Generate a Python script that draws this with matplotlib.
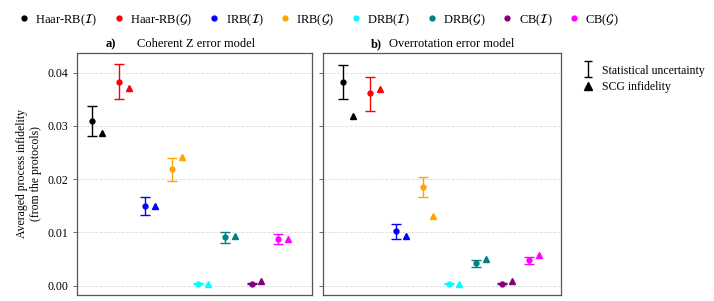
import matplotlib.pyplot as plt
from matplotlib.lines import Line2D
from matplotlib.path import Path
import numpy as np

plt.rcParams["font.family"] = ["Liberation Serif", "DejaVu Serif"]
plt.rcParams["mathtext.fontset"] = "stix"

# protocols and colours
protocols = [r"Haar-RB($\mathcal{I}$)", r"Haar-RB($\mathcal{G}$)", r"IRB($\mathcal{I}$)",
             r"IRB($\mathcal{G}$)", r"DRB($\mathcal{I}$)", r"DRB($\mathcal{G}$)",
             r"CB($\mathcal{I}$)", r"CB($\mathcal{G}$)"]
colors = ["black", "red", "blue", "orange", "cyan", "teal", "purple", "magenta"]

# a) coherent Z error model
z_mean = [0.0309, 0.0383, 0.0149, 0.0219, 0.0004, 0.0091, 0.0004, 0.00875]
z_low = [0.0281, 0.0351, 0.01325, 0.0196, 0.0003, 0.0081, 0.0003, 0.00775]
z_high = [0.03375, 0.04156, 0.0167, 0.0240, 0.0005, 0.0100, 0.0005, 0.00975]
z_scg = [0.0287, 0.0372, 0.0149, 0.0241, 0.0004, 0.0094, 0.0009, 0.0088]

# b) overrotation error model
o_mean = [0.03825, 0.0361, 0.0102, 0.0186, 0.0004, 0.0043, 0.0004, 0.00475]
o_low = [0.0351, 0.0328, 0.00875, 0.0167, 0.0003, 0.0035, 0.0003, 0.0040]
o_high = [0.04144, 0.03925, 0.0116, 0.0205, 0.0005, 0.0049, 0.0005, 0.0054]
o_scg = [0.0318, 0.0369, 0.00925, 0.0131, 0.0004, 0.0050, 0.0008, 0.0057]

fig = plt.figure(figsize=(7.14, 3.01), dpi=100)
ax1 = fig.add_axes([77 / 714, 1 - 295 / 301, 235 / 714, 242 / 301])
ax2 = fig.add_axes([323 / 714, 1 - 295 / 301, 238 / 714, 242 / 301], sharey=ax1)


def draw_panel(ax, mean, low, high, scg):
    x = np.arange(len(protocols))
    for i in x:
        ax.errorbar(x[i], mean[i], yerr=[[mean[i] - low[i]], [high[i] - mean[i]]],
                    fmt="o", color=colors[i], ecolor=colors[i], markersize=3.5,
                    elinewidth=1.0, capsize=3.5, capthick=1.0)
        ax.plot(x[i] + 0.375, scg[i], "^", color=colors[i], markersize=3.8)
    ax.set_xticks([])
    ax.grid(True, axis="y", linestyle="--", color="#dddddd", linewidth=0.6)
    ax.set_axisbelow(True)
    for s in ax.spines.values():
        s.set_color("#555555")
        s.set_linewidth(0.9)
    ax.tick_params(axis="y", labelsize=8.5, length=3, width=0.6, color="#555555")


draw_panel(ax1, z_mean, z_low, z_high, z_scg)
draw_panel(ax2, o_mean, o_low, o_high, o_scg)
ax1.set_xlim(-0.58, 8.28)
ax2.set_xlim(-0.75, 8.20)
ax1.set_ylim(-0.00175, 0.0437)
ax1.set_yticks([0.0, 0.01, 0.02, 0.03, 0.04])
ax1.set_yticklabels(["0.00", "0.01", "0.02", "0.03", "0.04"])
plt.setp(ax2.get_yticklabels(), visible=False)
ax1.set_ylabel("Averaged process infidelity\n(from the protocols)", fontsize=8.5, labelpad=4)

# panel titles
ax1.text(0.12, 1.012, "a)", transform=ax1.transAxes, fontsize=9, fontweight="bold", ha="left", va="bottom")
ax1.text(0.255, 1.012, "Coherent Z error model", transform=ax1.transAxes, fontsize=9, ha="left", va="bottom")
ax2.text(0.20, 1.012, "b)", transform=ax2.transAxes, fontsize=9, fontweight="bold", ha="left", va="bottom")
ax2.text(0.277, 1.012, "Overrotation error model", transform=ax2.transAxes, fontsize=9, ha="left", va="bottom")

# top legend with protocols
handles = [Line2D([], [], marker="o", linestyle="none", color=c, markersize=3.5) for c in colors]
fig.legend(handles, protocols, loc="center", bbox_to_anchor=(0.445, 0.934), ncol=8,
           frameon=False, fontsize=9, handletextpad=0.3, columnspacing=1.15, handlelength=1.2)

# right legend with marker meanings
cap_bar = Path([(-0.5, 1), (0.5, 1), (0, 1), (0, -1), (-0.5, -1), (0.5, -1)],
               [Path.MOVETO, Path.LINETO, Path.MOVETO, Path.LINETO, Path.MOVETO, Path.LINETO])
err_handle = Line2D([], [], marker=cap_bar, linestyle="none", color="black",
                    markerfacecolor="none", markersize=11, markeredgewidth=1.0)
tri_handle = Line2D([], [], marker="^", linestyle="none", color="black", markersize=5.5)
fig.legend([err_handle, tri_handle], ["Statistical uncertainty", "SCG infidelity"],
           loc="upper left", bbox_to_anchor=(570 / 714, 1 - 54 / 301), frameon=False,
           fontsize=8.5, handletextpad=0.6, labelspacing=0.4, handlelength=1.2)

fig.savefig("out.png", dpi=100)
